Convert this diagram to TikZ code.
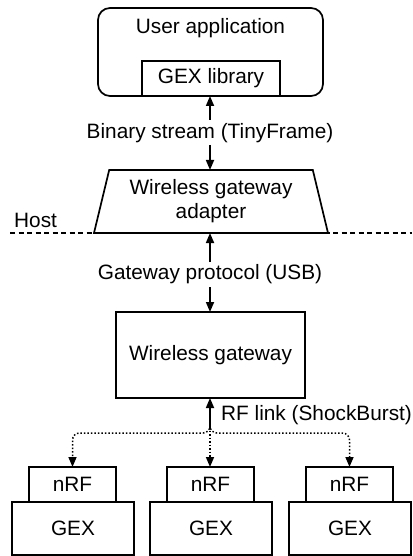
\documentclass[tikz,border=0pt]{standalone}
\usepackage{fontspec}
\setmainfont{Liberation Sans}
\usetikzlibrary{shapes.geometric,arrows.meta}
\begin{document}
\begin{tikzpicture}[x=1pt,y=-1pt,
  every node/.style={font=\fontsize{20.8}{24}\selectfont},
  box/.style={draw,line width=1.7pt,inner sep=0pt,outer sep=0pt},
  lbl/.style={inner sep=0pt},
  arr/.style={line width=1.7pt,-{Triangle[length=10pt,width=8pt]}},
  darr/.style={line width=1.5pt,dotted,rounded corners=7pt,-{Triangle[length=10pt,width=8pt]}}]
\useasboundingbox (0,0) rectangle (412,556);
% user application
\node[box,rounded corners=12pt,minimum width=225pt,minimum height=88pt] (app) at (210.5,52) {};
\node[lbl] (apptext) at (210.5,28) {User application};
\node[box,minimum width=138pt,minimum height=35pt] (lib) at (211,78.5) {GEX library};
% binary stream
\node[lbl] (bin) at (210,133) {Binary stream (TinyFrame)};
% adapter
\node[box,trapezium,trapezium angle=70.7,trapezium stretches body,minimum width=234pt,minimum height=63pt,align=center] (adp) at (211,201.5) {Wireless gateway\\adapter};
% host line
\coordinate (hl) at (10,233);
\coordinate (hr) at (412,233);
\draw[line width=1.2pt,dash pattern=on 5pt off 3.5pt] (hl) -- (hr);
\node[lbl,anchor=west] (host) at (14,220) {Host};
% gateway protocol
\node[lbl] (gp) at (210,274) {Gateway protocol (USB)};
% wireless gateway
\node[box,minimum width=189pt,minimum height=86pt] (gw) at (210.5,355) {Wireless gateway};
\node[lbl,anchor=west] (rf) at (221,415) {RF link (ShockBurst)};
\coordinate (j) at (210,427);
% nodes
\foreach \i/\x in {1/72.5,2/210.5,3/349.5}{
  \node[box,minimum width=87pt,minimum height=35pt] (nrf\i) at (\x,484.5) {nRF};
}
\foreach \i/\x in {1/73,2/211,3/350}{
  \node[box,minimum width=122pt,minimum height=53pt] (gex\i) at (\x,528.5) {GEX};
}
% arrow tails
\coordinate (t1) at (210,120);
\coordinate (t2) at (210,145);
\coordinate (t3) at (210,262);
\coordinate (t4) at (210,287);
% arrows
\draw[arr] (t1) -- (t1 |- lib.south);
\draw[arr] (t2) -- (t2 |- adp.north);
\draw[arr] (t3) -- (t3 |- adp.south);
\draw[arr] (t4) -- (t4 |- gw.north);
\draw[arr] (j) -- (j |- gw.south);
\draw[darr] (j) -- ++(0,6) -| (nrf1.north);
\draw[darr] (j) -- (j |- nrf2.north);
\draw[darr] (j) -- ++(0,6) -| (nrf3.north);
\end{tikzpicture}
\end{document}
